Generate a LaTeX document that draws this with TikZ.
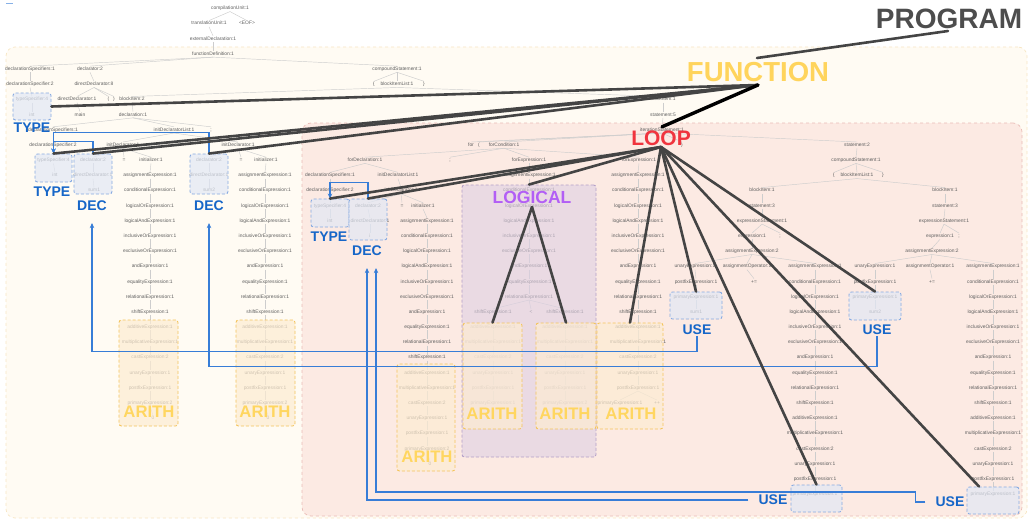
\documentclass[tikz,border=0pt]{standalone}
\usepackage{fontspec}
\setmainfont{Liberation Sans}
\usetikzlibrary{arrows.meta}

\definecolor{treegray}{RGB}{95,95,95}
\definecolor{edgegray}{RGB}{205,205,205}
\definecolor{funcfill}{RGB}{255,251,243}
\definecolor{funcedge}{RGB}{247,230,196}
\definecolor{loopfill}{RGB}{252,234,227}
\definecolor{loopedge}{RGB}{234,188,182}
\definecolor{typefill}{RGB}{226,232,245}
\definecolor{typeedge}{RGB}{135,170,225}
\definecolor{arithfill}{RGB}{253,236,210}
\definecolor{arithedge}{RGB}{244,196,92}
\definecolor{logicfill}{RGB}{222,208,228}
\definecolor{logicedge}{RGB}{180,160,200}
\definecolor{bluecol}{RGB}{22,102,200}
\definecolor{usecol}{RGB}{55,125,215}
\definecolor{heavycol}{RGB}{68,68,68}
\definecolor{progcol}{RGB}{77,77,77}
\definecolor{funccol}{RGB}{255,212,92}
\definecolor{loopcol}{RGB}{240,52,62}
\definecolor{logiccol}{RGB}{178,95,245}
\definecolor{arithcol}{RGB}{255,214,96}

% y position of a tree row (in px)
\pgfmathdeclarefunction{rowy}{1}{\pgfmathparse{8.5+15.18*#1}}

\tikzset{
  tlabel/.style={font=\fontsize{4.9}{5}\selectfont, text=treegray, inner sep=0.6pt, text height=3.6pt, text depth=1pt},
  treeline/.style={draw=edgegray, line width=0.45pt},
  region/.style 2 args={draw=#1, fill=#2, dash pattern=on 3pt off 3pt, line width=0.7pt, rounded corners=9pt, inner sep=0pt},
  hlbox/.style 2 args={draw=#1, fill=#2, fill opacity=0.7, dash pattern=on 3pt off 2pt, line width=0.9pt, rounded corners=2.5pt, inner sep=0pt},
  typebox/.style={hlbox={typeedge}{typefill}},
  arithbox/.style={hlbox={arithedge}{arithfill}},
  logicbox/.style={hlbox={logicedge}{logicfill}, fill opacity=0.6},
  bluelabel/.style={font=\fontsize{14}{14}\selectfont\bfseries, text=bluecol, inner sep=1pt, text depth=0pt},
  arithlabel/.style={font=\fontsize{16.7}{17}\selectfont\bfseries, text=arithcol, inner sep=1pt, text depth=0pt},
  biglabel/.style={inner sep=1pt, text depth=0pt},
  defuse/.style={draw=usecol, line width=1.1pt, -{Stealth[length=5pt,width=4.5pt]}},
  heavy/.style={draw=heavycol, line width=2.6pt, line cap=round},
  heavyblack/.style={draw=black, line width=3.4pt, line cap=round},
}

% expression chains
\newcommand\upperpart{assignmentExpression:1,conditionalExpression:1,logicalOrExpression:1,logicalAndExpression:1,inclusiveOrExpression:1,exclusiveOrExpression:1,andExpression:1,equalityExpression:1,relationalExpression:1}
\newcommand\lowerpart{additiveExpression:1,multiplicativeExpression:1,castExpression:2,unaryExpression:1,postfixExpression:1}
\edef\fullchaintwo{\upperpart,shiftExpression:1,\lowerpart,primaryExpression:2}
\edef\fullchainone{\upperpart,shiftExpression:1,\lowerpart,primaryExpression:1}
\edef\armchaintwo{shiftExpression:1,\lowerpart,primaryExpression:2}
\edef\armchainone{shiftExpression:1,\lowerpart,primaryExpression:1}
\edef\postchain{\upperpart,shiftExpression:1,\lowerpart}

\newcommand{\exprchain}[4]{%
  \foreach \lbl [count=\i from #3] in #4 {
    \node[tlabel] (#1\i) at (#2,{rowy(\i)}) {\lbl};
    \ifnum\i>#3
      \pgfmathtruncatemacro{\j}{\i-1}
      \draw[treeline] (#1\j.south) -- (#1\i.north);
    \fi
  }%
}

\begin{document}
\begin{tikzpicture}[x=1pt, y=-1pt]
\useasboundingbox (0,0) rectangle (1030,519);

% regions
\node[region={funcedge}{funcfill}, minimum width=1021pt, minimum height=471pt] (funcArea) at (516.5,282.5) {};
\node[region={loopedge}{loopfill}, minimum width=720pt, minimum height=393pt] (loopArea) at (662,319.5) {};
\draw[usecol!60, line width=0.8pt] (6,3) -- (13,3);

% parse tree
\node[tlabel] (cu) at (230,{rowy(0)}) {compilationUnit:1};
\node[tlabel] (tu) at (209,{rowy(1)}) {translationUnit:1};
\node[tlabel] (eof) at (247,{rowy(1)}) {<EOF>};
\node[tlabel] (ed) at (213,{rowy(2)}) {externalDeclaration:1};
\node[tlabel] (fd) at (213,{rowy(3)}) {functionDefinition:1};
\node[tlabel] (dss) at (30,{rowy(4)}) {declarationSpecifiers:1};
\node[tlabel] (dcl) at (90,{rowy(4)}) {declarator:2};
\node[tlabel] (cs) at (397,{rowy(4)}) {compoundStatement:1};
\node[tlabel] (ds) at (30,{rowy(5)}) {declarationSpecifier:2};
\node[tlabel] (dd8) at (94,{rowy(5)}) {directDeclarator:8};
\node[tlabel] (lb) at (374,{rowy(5)}) {\{};
\node[tlabel] (bil) at (397,{rowy(5)}) {blockItemList:1};
\node[tlabel] (rb) at (424,{rowy(5)}) {\}};
\node[tlabel] (ts) at (32,{rowy(6)}) {typeSpecifier:4};
\node[tlabel] (dd1) at (77,{rowy(6)}) {directDeclarator:1};
\node[tlabel] (lp) at (108.5,{rowy(6)}) {(};
\node[tlabel] (rp) at (114,{rowy(6)}) {)};
\node[tlabel] (bi2) at (132,{rowy(6)}) {blockItem:2};
\node[tlabel] (bi1) at (663,{rowy(6)}) {blockItem:1};
\node[tlabel] (int) at (32,{rowy(7)}) {int};
\node[tlabel] (main) at (80,{rowy(7)}) {main};
\node[tlabel] (decl) at (133,{rowy(7)}) {declaration:1};
\node[tlabel] (st5) at (663,{rowy(7)}) {statement:5};
\node[tlabel] (dss2) at (53,{rowy(8)}) {declarationSpecifiers:1};
\node[tlabel] (idl) at (174,{rowy(8)}) {initDeclaratorList:1};
\node[tlabel] (semi) at (211,{rowy(8)}) {;};
\node[tlabel] (its) at (662,{rowy(8)}) {iterationStatement:1};
\node[tlabel] (ds2) at (53,{rowy(9)}) {declarationSpecifier:2};
\node[tlabel] (id1) at (123,{rowy(9)}) {initDeclarator:1};
\node[tlabel] (id2) at (238,{rowy(9)}) {initDeclarator:1};
\node[tlabel] (for) at (471,{rowy(9)}) {for};
\node[tlabel] (flp) at (479,{rowy(9)}) {(};
\node[tlabel] (fc) at (504,{rowy(9)}) {forCondition:1};
\node[tlabel] (frp) at (682,{rowy(9)}) {)};
\node[tlabel] (st2) at (857,{rowy(9)}) {statement:2};
\node[tlabel] (ts2) at (53.5,{rowy(10)}) {typeSpecifier:4};
\node[tlabel] (dc1) at (93,{rowy(10)}) {declarator:2};
\node[tlabel] (eq1) at (124,{rowy(10)}) {=};
\node[tlabel] (ini1) at (151,{rowy(10)}) {initializer:1};
\node[tlabel] (dc2) at (209,{rowy(10)}) {declarator:2};
\node[tlabel] (eq2) at (241,{rowy(10)}) {=};
\node[tlabel] (ini2) at (266,{rowy(10)}) {initializer:1};
\node[tlabel] (fdecl) at (365,{rowy(10)}) {forDeclaration:1};
\node[tlabel] (fsemi) at (450,{rowy(10)}) {;};
\node[tlabel] (fe1) at (529,{rowy(10)}) {forExpression:1};
\node[tlabel] (fe2) at (639,{rowy(10)}) {forExpression:1};
\node[tlabel] (cs2) at (856,{rowy(10)}) {compoundStatement:1};
\node[tlabel] (int2) at (55,{rowy(11)}) {int};
\node[tlabel] (dd1a) at (93,{rowy(11)}) {directDeclarator:1};
\node[tlabel] (dd1b) at (209,{rowy(11)}) {directDeclarator:1};
\node[tlabel] (dss3) at (330,{rowy(11)}) {declarationSpecifiers:1};
\node[tlabel] (idl3) at (398,{rowy(11)}) {initDeclaratorList:1};
\node[tlabel] (lb2) at (834,{rowy(11)}) {\{};
\node[tlabel] (bil2) at (857,{rowy(11)}) {blockItemList:1};
\node[tlabel] (rb2) at (883,{rowy(11)}) {\}};
\node[tlabel] (sum1) at (94,{rowy(12)}) {sum1};
\node[tlabel] (sum2) at (209,{rowy(12)}) {sum2};
\node[tlabel] (ds3) at (330,{rowy(12)}) {declarationSpecifier:2};
\node[tlabel] (id3) at (401,{rowy(12)}) {initDeclarator:1};
\node[tlabel] (bi1a) at (762,{rowy(12)}) {blockItem:1};
\node[tlabel] (bi1b) at (945,{rowy(12)}) {blockItem:1};
\node[tlabel] (ts3) at (330,{rowy(13)}) {typeSpecifier:4};
\node[tlabel] (dc3) at (368,{rowy(13)}) {declarator:2};
\node[tlabel] (eq3) at (402,{rowy(13)}) {=};
\node[tlabel] (ini3) at (423,{rowy(13)}) {initializer:1};
\node[tlabel] (st3a) at (762,{rowy(13)}) {statement:3};
\node[tlabel] (st3b) at (945,{rowy(13)}) {statement:3};
\node[tlabel] (int3) at (330,{rowy(14)}) {int};
\node[tlabel] (dd1c) at (370,{rowy(14)}) {directDeclarator:1};
\node[tlabel] (es1) at (762,{rowy(14)}) {expressionStatement:1};
\node[tlabel] (es2) at (944,{rowy(14)}) {expressionStatement:1};
\node[tlabel] (iv) at (370,{rowy(15)}) {i};
\node[tlabel] (ex1) at (752,{rowy(15)}) {expression:1};
\node[tlabel] (sc1) at (780,{rowy(15)}) {;};
\node[tlabel] (ex2) at (940,{rowy(15)}) {expression:1};
\node[tlabel] (sc2) at (959,{rowy(15)}) {;};
\node[tlabel] (ae2a) at (752,{rowy(16)}) {assignmentExpression:2};
\node[tlabel] (ae2b) at (932,{rowy(16)}) {assignmentExpression:2};
\node[tlabel] (ue1) at (695,{rowy(17)}) {unaryExpression:1};
\node[tlabel] (ao1) at (747,{rowy(17)}) {assignmentOperator:1};
\node[tlabel] (ue2) at (875,{rowy(17)}) {unaryExpression:1};
\node[tlabel] (ao2) at (930,{rowy(17)}) {assignmentOperator:1};
\node[tlabel] (pf1) at (696,{rowy(18)}) {postfixExpression:1};
\node[tlabel] (pe1) at (754,{rowy(18)}) {+=};
\node[tlabel] (pf2) at (875,{rowy(18)}) {postfixExpression:1};
\node[tlabel] (pe2) at (932,{rowy(18)}) {+=};
\node[tlabel] (pr1) at (696,{rowy(19)}) {primaryExpression:1};
\node[tlabel] (pr2) at (875,{rowy(19)}) {primaryExpression:1};
\node[tlabel] (s1) at (696,{rowy(20)}) {sum1};
\node[tlabel] (s2) at (875,{rowy(20)}) {sum2};

\exprchain{A}{150}{11}{\fullchaintwo}
\exprchain{B}{265}{11}{\fullchaintwo}
\exprchain{C}{427}{14}{\fullchaintwo}
\exprchain{D}{529}{11}{\upperpart}
\exprchain{Dl}{493}{20}{\armchainone}
\exprchain{Dr}{565}{20}{\armchaintwo}
\exprchain{E}{638}{11}{\postchain}
\exprchain{F}{815}{17}{\fullchainone}
\exprchain{G}{993}{17}{\fullchainone}
\node[tlabel] (zA) at (153,{rowy(27)}) {0};
\node[tlabel] (zB) at (268,{rowy(27)}) {0};
\node[tlabel] (zC) at (430,{rowy(30)}) {0};
\node[tlabel] (lt) at (531,{rowy(20)}) {<};
\node[tlabel] (Epr) at (620,{rowy(26)}) {primaryExpression:1};
\node[tlabel] (pp) at (657,{rowy(26)}) {++};

\foreach \a/\b in {cu/tu, cu/eof, tu/ed, ed/fd, fd/dss, fd/dcl, fd/cs, dss/ds, ds/ts, ts/int,
    dcl/dd8, dd8/dd1, dd8/lp, dd8/rp, dd1/main, cs/lb, cs/bil, cs/rb, bil/bi2, bil/bi1,
    bi2/decl, decl/dss2, decl/idl, decl/semi, dss2/ds2, ds2/ts2, ts2/int2, idl/id1, idl/id2,
    id1/dc1, id1/eq1, id1/ini1, dc1/dd1a, dd1a/sum1, id2/dc2, id2/eq2, id2/ini2, dc2/dd1b,
    dd1b/sum2, ini1/A11, ini2/B11, A26/zA, B26/zB}
  \draw[treeline] (\a.south) -- (\b.north);
\foreach \a/\b in {bi1/st5, st5/its, its/for, its/flp, its/fc, its/frp, its/st2,
    fc/fdecl, fc/fsemi, fc/fe1, fc/fe2, fdecl/dss3, fdecl/idl3, dss3/ds3, ds3/ts3, ts3/int3,
    idl3/id3, id3/dc3, id3/eq3, id3/ini3, dc3/dd1c, dd1c/iv, ini3/C14, C29/zC,
    fe1/D11, D19/Dl20, D19/lt, D19/Dr20, fe2/E11, E25/Epr, E25/pp,
    st2/cs2, cs2/lb2, cs2/bil2, cs2/rb2, bil2/bi1a, bil2/bi1b,
    bi1a/st3a, st3a/es1, es1/ex1, es1/sc1, ex1/ae2a, ae2a/ue1, ae2a/ao1, ae2a/F17,
    ue1/pf1, pf1/pr1, pr1/s1, ao1/pe1,
    bi1b/st3b, st3b/es2, es2/ex2, es2/sc2, ex2/ae2b, ae2b/ue2, ae2b/ao2, ae2b/G17,
    ue2/pf2, pf2/pr2, pr2/s2, ao2/pe2}
  \draw[treeline] (\a.south) -- (\b.north);

% highlight boxes
\node[typebox, minimum width=38pt, minimum height=27pt] (tyA) at (32,106.5) {};
\node[typebox, minimum width=37pt, minimum height=28pt] (tyB) at (53.5,168) {};
\node[typebox, minimum width=38pt, minimum height=40pt] (dcA) at (93,174) {};
\node[typebox, minimum width=38pt, minimum height=40pt] (dcB) at (209,174) {};
\node[arithbox, minimum width=59pt, minimum height=106pt] (arA) at (148.5,373) {};
\node[arithbox, minimum width=59pt, minimum height=106pt] (arB) at (265.5,373) {};
\node[typebox, minimum width=38pt, minimum height=28pt] (tyC) at (330,213) {};
\node[typebox, minimum width=38pt, minimum height=41pt] (dcC) at (368,219.5) {};
\node[arithbox, minimum width=58pt, minimum height=107pt] (arC) at (426,417.5) {};
\node[logicbox, minimum width=134pt, minimum height=272pt] (lg) at (529,321) {};
\node[arithbox, minimum width=59pt, minimum height=106pt] (arD) at (492.5,376) {};
\node[arithbox, minimum width=60pt, minimum height=106pt] (arE) at (566,376) {};
\node[arithbox, minimum width=66pt, minimum height=106pt] (arF) at (630,376) {};
\node[typebox, minimum width=52pt, minimum height=27pt] (usA) at (696,305.5) {};
\node[typebox, minimum width=52pt, minimum height=28pt] (usB) at (875,306) {};
\node[typebox, minimum width=51pt, minimum height=27pt] (usC) at (816.5,498.5) {};
\node[typebox, minimum width=52pt, minimum height=27pt] (usD) at (993,500.5) {};

% labels
\node[bluelabel] (tyLblA) at (32,128) {TYPE};
\node[bluelabel] (tyLblB) at (52,192) {TYPE};
\node[bluelabel] (tyLblC) at (329,237) {TYPE};
\node[bluelabel] (decA) at (92,206) {DEC};
\node[bluelabel] (decB) at (209,206) {DEC};
\node[bluelabel] (decC) at (367,251) {DEC};
\node[bluelabel] (uA) at (697,330) {USE};
\node[bluelabel] (uB) at (877,330) {USE};
\node[bluelabel] (uC) at (773,500) {USE};
\node[bluelabel] (uD) at (950,502) {USE};
\node[arithlabel] (arLblA) at (149,412) {ARITH};
\node[arithlabel] (arLblB) at (265,412) {ARITH};
\node[arithlabel] (arLblC) at (427,457) {ARITH};
\node[arithlabel] (arLblD) at (492,414) {ARITH};
\node[arithlabel] (arLblE) at (565,414) {ARITH};
\node[arithlabel] (arLblF) at (631,414) {ARITH};
\node[biglabel, font=\fontsize{28}{28}\selectfont\bfseries, text=progcol] (progLbl) at (949,19) {PROGRAM};
\node[biglabel, font=\fontsize{27.5}{28}\selectfont\bfseries, text=funccol] (funcLbl) at (758,72) {FUNCTION};
\node[biglabel, font=\fontsize{21}{21}\selectfont\bfseries, text=loopcol] (loopLbl) at (661,138) {LOOP};
\node[biglabel, font=\fontsize{17.5}{18}\selectfont\bfseries, text=logiccol] (logicLbl) at (532,197) {LOGICAL};

% def-use links
\draw[defuse] (dcA.north) -- ++(0,-12) -| (tyB.north);
\draw[defuse] (dcB.north) -- ++(0,-21) -| (tyB.north);
\draw[defuse] (dcC.north) -- ++(0,-16) -| (tyC.north);
\draw[defuse, shorten >=11pt] (uA.south) -- ++(0,15) -| (decA.south);
\draw[defuse, shorten >=11pt] (uB.south) -- ++(0,30) -| (decB.south);
\draw[defuse, shorten >=11pt] ([xshift=-9pt]uC.west) -| (decC.south);
\draw[defuse, shorten >=11pt] ([xshift=-9pt]uD.west) -- ++(-10,0) -- ++(0,-10) -| ([xshift=9pt]decC.south);

% scope pointers
\coordinate (progHub) at (948,31);
\coordinate (funcTop) at (757,58);
\coordinate (funcHub) at (758,85);
\coordinate (loopHub) at (661,147);
\coordinate (logicHub) at (532,207);
\draw[heavy] (progHub) -- (funcTop);
\foreach \t in {tyA.east, tyB.north, dcA.north, dcB.north}
  \draw[heavy] (funcHub) -- (\t);
\draw[heavyblack] (funcHub) -- (its.north);
\foreach \t in {tyC.north, dcC.north, lg.north, arF.north, usA.north, usB.north, usC.north, usD.135}
  \draw[heavy] (loopHub) -- (\t);
\foreach \t in {arD.north, arE.north}
  \draw[heavy] (logicHub) -- (\t);
\end{tikzpicture}
\end{document}
